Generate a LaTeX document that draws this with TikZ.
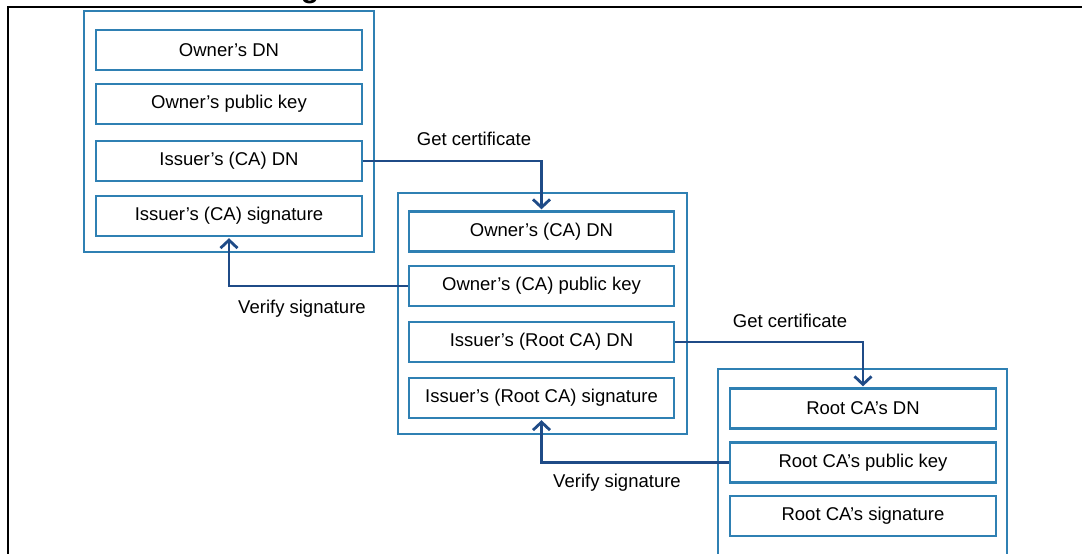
\documentclass[tikz,border=0pt]{standalone}
\usepackage{fontspec}
\setmainfont{Liberation Sans}
\usetikzlibrary{arrows.meta}
\definecolor{boxblue}{HTML}{2F80B3}
\definecolor{arrblue}{HTML}{1F4B87}
\tikzset{
  x=1pt,y=-1pt,
  outerbox/.style={draw=boxblue,line width=2pt,minimum width=#1,minimum height=241pt,inner sep=0pt},
  field/.style={draw=boxblue,line width=2.4pt,minimum width=266pt,minimum height=40pt,inner sep=0pt,font=\fontsize{18.5}{20}\selectfont},
  lbl/.style={font=\fontsize{18.5}{20}\selectfont,inner sep=0pt},
  conn/.style={draw=arrblue,line width=2.8pt,-{Straight Barb[length=8pt,width=17pt,line width=2.8pt]}},
}
\begin{document}
\begin{tikzpicture}
\useasboundingbox (0,0) rectangle (1082,554);
\clip (0,0) rectangle (1082,554);
% frame
\draw[black,line width=2.8pt] (8,560) -- (8,7) -- (1090,7);
\node[anchor=base,font=\bfseries\fontsize{30}{32}\selectfont,inner sep=0pt] (title) at (310,-2) {g};
% certificate 1
\node[outerbox=290pt] (c1) at (229,131.5) {};
\node[field] (a1) at (229,50) {Owner’s DN};
\node[field] (a2) at (229,104) {Owner’s public key};
\node[field] (a3) at (229,161) {Issuer’s (CA) DN};
\node[field] (a4) at (229,216) {Issuer’s (CA) signature};
% certificate 2
\node[outerbox=289pt] (c2) at (542.5,313.5) {};
\node[field,minimum width=265pt] (b1) at (541.5,231.5) {Owner’s (CA) DN};
\node[field,minimum width=265pt] (b2) at (541.5,286) {Owner’s (CA) public key};
\node[field,minimum width=265pt] (b3) at (541.5,342) {Issuer’s (Root CA) DN};
\node[field,minimum width=265pt] (b4) at (541.5,398) {Issuer’s (Root CA) signature};
% certificate 3
\node[outerbox=289pt,minimum height=200pt] (c3) at (862.5,469) {};
\node[field] (r1) at (863,408.5) {Root CA’s DN};
\node[field] (r2) at (863,462.5) {Root CA’s public key};
\node[field] (r3) at (863,516) {Root CA’s signature};
% connectors
\draw[conn,shorten >=1pt] (a3.east) -| (b1.north);
\draw[conn,shorten >=1pt] (b2.west) -| (a4.south);
\draw[conn,shorten >=1pt] (b3.east) -| (r1.north);
\draw[conn,shorten >=1pt] (r2.west) -| (b4.south);
% labels
\node[lbl] (l1) at (474,139) {Get certificate};
\node[lbl] (l2) at (302,309) {Verify signature};
\node[lbl] (l3) at (790,321) {Get certificate};
\node[lbl] (l4) at (617,483) {Verify signature};
\end{tikzpicture}
\end{document}
